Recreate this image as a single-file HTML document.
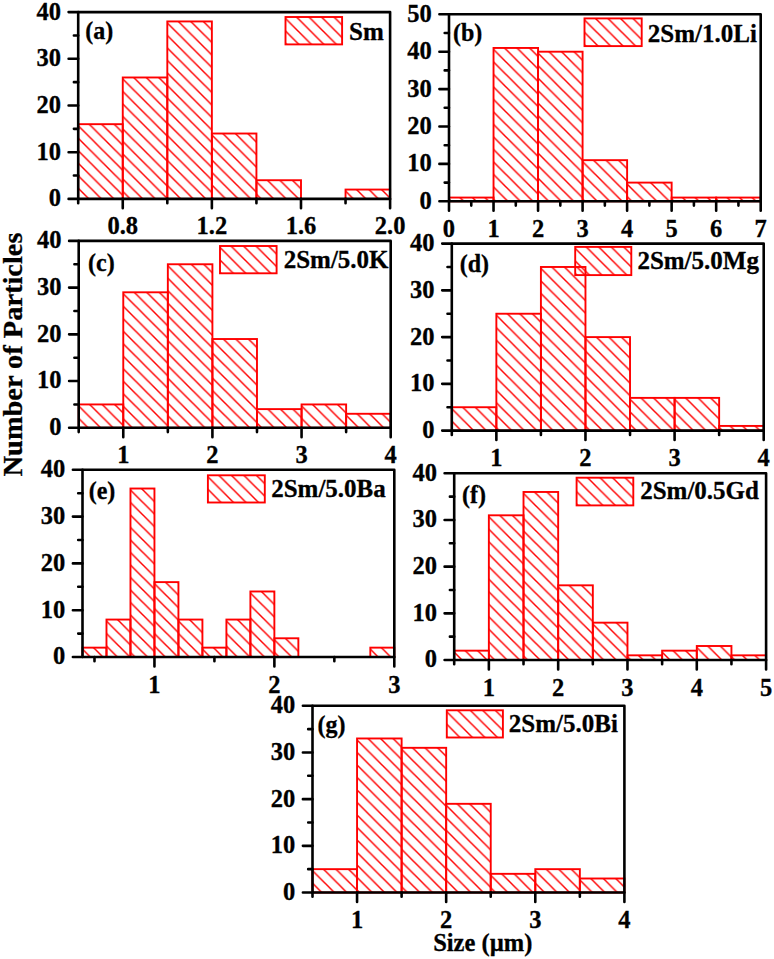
<!DOCTYPE html>
<html><head><meta charset="utf-8"><style>
html,body{margin:0;padding:0;background:#fff;}
svg{display:block;}
text{font-family:"Liberation Serif",serif;font-weight:bold;fill:#000;stroke:#000;stroke-width:0.3px;}
.yt{font-size:24.5px;text-anchor:end;}
.xt{font-size:24.5px;text-anchor:middle;}
.leg{font-size:25px;}
.lab{font-size:24px;}
.bar{stroke:#ff0000;stroke-width:1.9;}
pattern path{stroke:#ff0000;stroke-width:1.45;fill:none;}
.ax{fill:none;stroke:#000;stroke-width:2.6;stroke-linejoin:round;}
.tk{fill:none;stroke:#000;stroke-width:2.6;stroke-linecap:round;}
</style></head><body>
<svg width="774" height="959" viewBox="0 0 774 959">
<defs><pattern id="p0" patternUnits="userSpaceOnUse" x="78.2" y="125.68" width="12.5" height="12.5"><path d="M-3 9.5L3 15.5M-3 -3L15.5 15.5M9.5 -3L15.5 3"/></pattern><pattern id="p1" patternUnits="userSpaceOnUse" x="122.76" y="78.98" width="12.5" height="12.5"><path d="M-3 9.5L3 15.5M-3 -3L15.5 15.5M9.5 -3L15.5 3"/></pattern><pattern id="p2" patternUnits="userSpaceOnUse" x="167.31" y="22.94" width="12.5" height="12.5"><path d="M-3 9.5L3 15.5M-3 -3L15.5 15.5M9.5 -3L15.5 3"/></pattern><pattern id="p3" patternUnits="userSpaceOnUse" x="211.87" y="135.02" width="12.5" height="12.5"><path d="M-3 9.5L3 15.5M-3 -3L15.5 15.5M9.5 -3L15.5 3"/></pattern><pattern id="p4" patternUnits="userSpaceOnUse" x="256.43" y="181.72" width="12.5" height="12.5"><path d="M-3 9.5L3 15.5M-3 -3L15.5 15.5M9.5 -3L15.5 3"/></pattern><pattern id="p5" patternUnits="userSpaceOnUse" x="345.54" y="191.06" width="12.5" height="12.5"><path d="M-3 9.5L3 15.5M-3 -3L15.5 15.5M9.5 -3L15.5 3"/></pattern><pattern id="p6" patternUnits="userSpaceOnUse" x="285.5" y="18.5" width="12.5" height="12.5"><path d="M-3 9.5L3 15.5M-3 -3L15.5 15.5M9.5 -3L15.5 3"/></pattern><pattern id="p7" patternUnits="userSpaceOnUse" x="449" y="199.06" width="12.5" height="12.5"><path d="M-3 9.5L3 15.5M-3 -3L15.5 15.5M9.5 -3L15.5 3"/></pattern><pattern id="p8" patternUnits="userSpaceOnUse" x="493.53" y="49.46" width="12.5" height="12.5"><path d="M-3 9.5L3 15.5M-3 -3L15.5 15.5M9.5 -3L15.5 3"/></pattern><pattern id="p9" patternUnits="userSpaceOnUse" x="538.06" y="53.2" width="12.5" height="12.5"><path d="M-3 9.5L3 15.5M-3 -3L15.5 15.5M9.5 -3L15.5 3"/></pattern><pattern id="p10" patternUnits="userSpaceOnUse" x="582.59" y="161.66" width="12.5" height="12.5"><path d="M-3 9.5L3 15.5M-3 -3L15.5 15.5M9.5 -3L15.5 3"/></pattern><pattern id="p11" patternUnits="userSpaceOnUse" x="627.11" y="184.1" width="12.5" height="12.5"><path d="M-3 9.5L3 15.5M-3 -3L15.5 15.5M9.5 -3L15.5 3"/></pattern><pattern id="p12" patternUnits="userSpaceOnUse" x="671.64" y="199.06" width="12.5" height="12.5"><path d="M-3 9.5L3 15.5M-3 -3L15.5 15.5M9.5 -3L15.5 3"/></pattern><pattern id="p13" patternUnits="userSpaceOnUse" x="716.17" y="199.06" width="12.5" height="12.5"><path d="M-3 9.5L3 15.5M-3 -3L15.5 15.5M9.5 -3L15.5 3"/></pattern><pattern id="p14" patternUnits="userSpaceOnUse" x="584.5" y="19.9" width="12.5" height="12.5"><path d="M-3 9.5L3 15.5M-3 -3L15.5 15.5M9.5 -3L15.5 3"/></pattern><pattern id="p15" patternUnits="userSpaceOnUse" x="78.7" y="405.94" width="12.5" height="12.5"><path d="M-3 9.5L3 15.5M-3 -3L15.5 15.5M9.5 -3L15.5 3"/></pattern><pattern id="p16" patternUnits="userSpaceOnUse" x="123.27" y="293.8" width="12.5" height="12.5"><path d="M-3 9.5L3 15.5M-3 -3L15.5 15.5M9.5 -3L15.5 3"/></pattern><pattern id="p17" patternUnits="userSpaceOnUse" x="167.84" y="265.76" width="12.5" height="12.5"><path d="M-3 9.5L3 15.5M-3 -3L15.5 15.5M9.5 -3L15.5 3"/></pattern><pattern id="p18" patternUnits="userSpaceOnUse" x="212.41" y="340.52" width="12.5" height="12.5"><path d="M-3 9.5L3 15.5M-3 -3L15.5 15.5M9.5 -3L15.5 3"/></pattern><pattern id="p19" patternUnits="userSpaceOnUse" x="256.99" y="410.61" width="12.5" height="12.5"><path d="M-3 9.5L3 15.5M-3 -3L15.5 15.5M9.5 -3L15.5 3"/></pattern><pattern id="p20" patternUnits="userSpaceOnUse" x="301.56" y="405.94" width="12.5" height="12.5"><path d="M-3 9.5L3 15.5M-3 -3L15.5 15.5M9.5 -3L15.5 3"/></pattern><pattern id="p21" patternUnits="userSpaceOnUse" x="346.13" y="415.28" width="12.5" height="12.5"><path d="M-3 9.5L3 15.5M-3 -3L15.5 15.5M9.5 -3L15.5 3"/></pattern><pattern id="p22" patternUnits="userSpaceOnUse" x="220" y="247.5" width="12.5" height="12.5"><path d="M-3 9.5L3 15.5M-3 -3L15.5 15.5M9.5 -3L15.5 3"/></pattern><pattern id="p23" patternUnits="userSpaceOnUse" x="451.8" y="408.73" width="12.5" height="12.5"><path d="M-3 9.5L3 15.5M-3 -3L15.5 15.5M9.5 -3L15.5 3"/></pattern><pattern id="p24" patternUnits="userSpaceOnUse" x="496.36" y="315.23" width="12.5" height="12.5"><path d="M-3 9.5L3 15.5M-3 -3L15.5 15.5M9.5 -3L15.5 3"/></pattern><pattern id="p25" patternUnits="userSpaceOnUse" x="540.91" y="268.48" width="12.5" height="12.5"><path d="M-3 9.5L3 15.5M-3 -3L15.5 15.5M9.5 -3L15.5 3"/></pattern><pattern id="p26" patternUnits="userSpaceOnUse" x="585.47" y="338.6" width="12.5" height="12.5"><path d="M-3 9.5L3 15.5M-3 -3L15.5 15.5M9.5 -3L15.5 3"/></pattern><pattern id="p27" patternUnits="userSpaceOnUse" x="630.03" y="399.38" width="12.5" height="12.5"><path d="M-3 9.5L3 15.5M-3 -3L15.5 15.5M9.5 -3L15.5 3"/></pattern><pattern id="p28" patternUnits="userSpaceOnUse" x="674.59" y="399.38" width="12.5" height="12.5"><path d="M-3 9.5L3 15.5M-3 -3L15.5 15.5M9.5 -3L15.5 3"/></pattern><pattern id="p29" patternUnits="userSpaceOnUse" x="719.14" y="427.43" width="12.5" height="12.5"><path d="M-3 9.5L3 15.5M-3 -3L15.5 15.5M9.5 -3L15.5 3"/></pattern><pattern id="p30" patternUnits="userSpaceOnUse" x="575.2" y="248.4" width="12.5" height="12.5"><path d="M-3 9.5L3 15.5M-3 -3L15.5 15.5M9.5 -3L15.5 3"/></pattern><pattern id="p31" patternUnits="userSpaceOnUse" x="82.5" y="649.14" width="12.5" height="12.5"><path d="M-3 9.5L3 15.5M-3 -3L15.5 15.5M9.5 -3L15.5 3"/></pattern><pattern id="p32" patternUnits="userSpaceOnUse" x="106.48" y="621.06" width="12.5" height="12.5"><path d="M-3 9.5L3 15.5M-3 -3L15.5 15.5M9.5 -3L15.5 3"/></pattern><pattern id="p33" patternUnits="userSpaceOnUse" x="130.47" y="490.02" width="12.5" height="12.5"><path d="M-3 9.5L3 15.5M-3 -3L15.5 15.5M9.5 -3L15.5 3"/></pattern><pattern id="p34" patternUnits="userSpaceOnUse" x="154.45" y="583.62" width="12.5" height="12.5"><path d="M-3 9.5L3 15.5M-3 -3L15.5 15.5M9.5 -3L15.5 3"/></pattern><pattern id="p35" patternUnits="userSpaceOnUse" x="178.44" y="621.06" width="12.5" height="12.5"><path d="M-3 9.5L3 15.5M-3 -3L15.5 15.5M9.5 -3L15.5 3"/></pattern><pattern id="p36" patternUnits="userSpaceOnUse" x="202.42" y="649.14" width="12.5" height="12.5"><path d="M-3 9.5L3 15.5M-3 -3L15.5 15.5M9.5 -3L15.5 3"/></pattern><pattern id="p37" patternUnits="userSpaceOnUse" x="226.41" y="621.06" width="12.5" height="12.5"><path d="M-3 9.5L3 15.5M-3 -3L15.5 15.5M9.5 -3L15.5 3"/></pattern><pattern id="p38" patternUnits="userSpaceOnUse" x="250.39" y="592.98" width="12.5" height="12.5"><path d="M-3 9.5L3 15.5M-3 -3L15.5 15.5M9.5 -3L15.5 3"/></pattern><pattern id="p39" patternUnits="userSpaceOnUse" x="274.38" y="639.78" width="12.5" height="12.5"><path d="M-3 9.5L3 15.5M-3 -3L15.5 15.5M9.5 -3L15.5 3"/></pattern><pattern id="p40" patternUnits="userSpaceOnUse" x="370.32" y="649.14" width="12.5" height="12.5"><path d="M-3 9.5L3 15.5M-3 -3L15.5 15.5M9.5 -3L15.5 3"/></pattern><pattern id="p41" patternUnits="userSpaceOnUse" x="207.9" y="476.8" width="12.5" height="12.5"><path d="M-3 9.5L3 15.5M-3 -3L15.5 15.5M9.5 -3L15.5 3"/></pattern><pattern id="p42" patternUnits="userSpaceOnUse" x="454.2" y="652.16" width="12.5" height="12.5"><path d="M-3 9.5L3 15.5M-3 -3L15.5 15.5M9.5 -3L15.5 3"/></pattern><pattern id="p43" patternUnits="userSpaceOnUse" x="488.86" y="516.81" width="12.5" height="12.5"><path d="M-3 9.5L3 15.5M-3 -3L15.5 15.5M9.5 -3L15.5 3"/></pattern><pattern id="p44" patternUnits="userSpaceOnUse" x="523.51" y="493.47" width="12.5" height="12.5"><path d="M-3 9.5L3 15.5M-3 -3L15.5 15.5M9.5 -3L15.5 3"/></pattern><pattern id="p45" patternUnits="userSpaceOnUse" x="558.17" y="586.82" width="12.5" height="12.5"><path d="M-3 9.5L3 15.5M-3 -3L15.5 15.5M9.5 -3L15.5 3"/></pattern><pattern id="p46" patternUnits="userSpaceOnUse" x="592.82" y="624.16" width="12.5" height="12.5"><path d="M-3 9.5L3 15.5M-3 -3L15.5 15.5M9.5 -3L15.5 3"/></pattern><pattern id="p47" patternUnits="userSpaceOnUse" x="627.48" y="656.83" width="12.5" height="12.5"><path d="M-3 9.5L3 15.5M-3 -3L15.5 15.5M9.5 -3L15.5 3"/></pattern><pattern id="p48" patternUnits="userSpaceOnUse" x="662.13" y="652.16" width="12.5" height="12.5"><path d="M-3 9.5L3 15.5M-3 -3L15.5 15.5M9.5 -3L15.5 3"/></pattern><pattern id="p49" patternUnits="userSpaceOnUse" x="696.79" y="647.5" width="12.5" height="12.5"><path d="M-3 9.5L3 15.5M-3 -3L15.5 15.5M9.5 -3L15.5 3"/></pattern><pattern id="p50" patternUnits="userSpaceOnUse" x="731.44" y="656.83" width="12.5" height="12.5"><path d="M-3 9.5L3 15.5M-3 -3L15.5 15.5M9.5 -3L15.5 3"/></pattern><pattern id="p51" patternUnits="userSpaceOnUse" x="576.6" y="479.2" width="12.5" height="12.5"><path d="M-3 9.5L3 15.5M-3 -3L15.5 15.5M9.5 -3L15.5 3"/></pattern><pattern id="p52" patternUnits="userSpaceOnUse" x="312.5" y="870.66" width="12.5" height="12.5"><path d="M-3 9.5L3 15.5M-3 -3L15.5 15.5M9.5 -3L15.5 3"/></pattern><pattern id="p53" patternUnits="userSpaceOnUse" x="357.06" y="739.97" width="12.5" height="12.5"><path d="M-3 9.5L3 15.5M-3 -3L15.5 15.5M9.5 -3L15.5 3"/></pattern><pattern id="p54" patternUnits="userSpaceOnUse" x="401.61" y="749.31" width="12.5" height="12.5"><path d="M-3 9.5L3 15.5M-3 -3L15.5 15.5M9.5 -3L15.5 3"/></pattern><pattern id="p55" patternUnits="userSpaceOnUse" x="446.17" y="805.32" width="12.5" height="12.5"><path d="M-3 9.5L3 15.5M-3 -3L15.5 15.5M9.5 -3L15.5 3"/></pattern><pattern id="p56" patternUnits="userSpaceOnUse" x="490.73" y="875.33" width="12.5" height="12.5"><path d="M-3 9.5L3 15.5M-3 -3L15.5 15.5M9.5 -3L15.5 3"/></pattern><pattern id="p57" patternUnits="userSpaceOnUse" x="535.29" y="870.66" width="12.5" height="12.5"><path d="M-3 9.5L3 15.5M-3 -3L15.5 15.5M9.5 -3L15.5 3"/></pattern><pattern id="p58" patternUnits="userSpaceOnUse" x="579.84" y="880" width="12.5" height="12.5"><path d="M-3 9.5L3 15.5M-3 -3L15.5 15.5M9.5 -3L15.5 3"/></pattern><pattern id="p59" patternUnits="userSpaceOnUse" x="446.8" y="711.8" width="12.5" height="12.5"><path d="M-3 9.5L3 15.5M-3 -3L15.5 15.5M9.5 -3L15.5 3"/></pattern></defs>
<rect width="774" height="959" fill="#fff"/>
<rect x="78.2" y="124.18" width="44.56" height="74.72" class="bar" fill="url(#p0)"/>
<rect x="122.76" y="77.48" width="44.56" height="121.42" class="bar" fill="url(#p1)"/>
<rect x="167.31" y="21.44" width="44.56" height="177.46" class="bar" fill="url(#p2)"/>
<rect x="211.87" y="133.52" width="44.56" height="65.38" class="bar" fill="url(#p3)"/>
<rect x="256.43" y="180.22" width="44.56" height="18.68" class="bar" fill="url(#p4)"/>
<rect x="345.54" y="189.56" width="44.56" height="9.34" class="bar" fill="url(#p5)"/>
<rect x="285.5" y="17" width="56.6" height="27.4" class="bar" fill="url(#p6)"/>
<text transform="translate(349 39.5) scale(1 1.04)" class="leg">Sm</text>
<text transform="translate(85.3 38.6) scale(1 1.04)" class="lab">(a)</text>
<rect x="78.2" y="12.1" width="311.9" height="186.8" class="ax"/>
<text transform="translate(60.9 206.3) scale(1 1.04)" class="yt">0</text>
<text transform="translate(60.9 159.6) scale(1 1.04)" class="yt">10</text>
<text transform="translate(60.9 112.9) scale(1 1.04)" class="yt">20</text>
<text transform="translate(60.9 66.2) scale(1 1.04)" class="yt">30</text>
<text transform="translate(60.9 19.5) scale(1 1.04)" class="yt">40</text>
<text transform="translate(122.76 234.4) scale(1 1.04)" class="xt">0.8</text>
<text transform="translate(211.87 234.4) scale(1 1.04)" class="xt">1.2</text>
<text transform="translate(300.99 234.4) scale(1 1.04)" class="xt">1.6</text>
<text transform="translate(390.1 234.4) scale(1 1.04)" class="xt">2.0</text>
<path d="M68.6 198.9H78.2M73.9 175.55H78.2M68.6 152.2H78.2M73.9 128.85H78.2M68.6 105.5H78.2M73.9 82.15H78.2M68.6 58.8H78.2M73.9 35.45H78.2M68.6 12.1H78.2M122.76 198.9V208.3M211.87 198.9V208.3M300.99 198.9V208.3M390.1 198.9V208.3M78.2 198.9V203.2M167.31 198.9V203.2M256.43 198.9V203.2M345.54 198.9V203.2" class="tk"/>
<rect x="449" y="197.56" width="44.53" height="3.74" class="bar" fill="url(#p7)"/>
<rect x="493.53" y="47.96" width="44.53" height="153.34" class="bar" fill="url(#p8)"/>
<rect x="538.06" y="51.7" width="44.53" height="149.6" class="bar" fill="url(#p9)"/>
<rect x="582.59" y="160.16" width="44.53" height="41.14" class="bar" fill="url(#p10)"/>
<rect x="627.11" y="182.6" width="44.53" height="18.7" class="bar" fill="url(#p11)"/>
<rect x="671.64" y="197.56" width="44.53" height="3.74" class="bar" fill="url(#p12)"/>
<rect x="716.17" y="197.56" width="44.53" height="3.74" class="bar" fill="url(#p13)"/>
<rect x="584.5" y="18.4" width="57.2" height="27.7" class="bar" fill="url(#p14)"/>
<text transform="translate(647.8 41.6) scale(1 1.04)" class="leg">2Sm/1.0Li</text>
<text transform="translate(453 41) scale(1 1.04)" class="lab">(b)</text>
<rect x="449" y="14.3" width="311.7" height="187" class="ax"/>
<text transform="translate(431.7 208.7) scale(1 1.04)" class="yt">0</text>
<text transform="translate(431.7 171.3) scale(1 1.04)" class="yt">10</text>
<text transform="translate(431.7 133.9) scale(1 1.04)" class="yt">20</text>
<text transform="translate(431.7 96.5) scale(1 1.04)" class="yt">30</text>
<text transform="translate(431.7 59.1) scale(1 1.04)" class="yt">40</text>
<text transform="translate(431.7 21.7) scale(1 1.04)" class="yt">50</text>
<text transform="translate(449 236.8) scale(1 1.04)" class="xt">0</text>
<text transform="translate(493.53 236.8) scale(1 1.04)" class="xt">1</text>
<text transform="translate(538.06 236.8) scale(1 1.04)" class="xt">2</text>
<text transform="translate(582.59 236.8) scale(1 1.04)" class="xt">3</text>
<text transform="translate(627.11 236.8) scale(1 1.04)" class="xt">4</text>
<text transform="translate(671.64 236.8) scale(1 1.04)" class="xt">5</text>
<text transform="translate(716.17 236.8) scale(1 1.04)" class="xt">6</text>
<text transform="translate(760.7 236.8) scale(1 1.04)" class="xt">7</text>
<path d="M439.4 201.3H449M444.7 182.6H449M439.4 163.9H449M444.7 145.2H449M439.4 126.5H449M444.7 107.8H449M439.4 89.1H449M444.7 70.4H449M439.4 51.7H449M444.7 33H449M439.4 14.3H449M449 201.3V210.7M493.53 201.3V210.7M538.06 201.3V210.7M582.59 201.3V210.7M627.11 201.3V210.7M671.64 201.3V210.7M716.17 201.3V210.7M760.7 201.3V210.7M471.26 201.3V205.6M515.79 201.3V205.6M560.32 201.3V205.6M604.85 201.3V205.6M649.38 201.3V205.6M693.91 201.3V205.6M738.44 201.3V205.6" class="tk"/>
<rect x="78.7" y="404.44" width="44.57" height="23.36" class="bar" fill="url(#p15)"/>
<rect x="123.27" y="292.3" width="44.57" height="135.5" class="bar" fill="url(#p16)"/>
<rect x="167.84" y="264.26" width="44.57" height="163.54" class="bar" fill="url(#p17)"/>
<rect x="212.41" y="339.02" width="44.57" height="88.78" class="bar" fill="url(#p18)"/>
<rect x="256.99" y="409.11" width="44.57" height="18.69" class="bar" fill="url(#p19)"/>
<rect x="301.56" y="404.44" width="44.57" height="23.36" class="bar" fill="url(#p20)"/>
<rect x="346.13" y="413.78" width="44.57" height="14.02" class="bar" fill="url(#p21)"/>
<rect x="220" y="246" width="56.6" height="27.3" class="bar" fill="url(#p22)"/>
<text transform="translate(283.7 268) scale(1 1.04)" class="leg">2Sm/5.0K</text>
<text transform="translate(88 270.8) scale(1 1.04)" class="lab">(c)</text>
<rect x="78.7" y="240.9" width="312" height="186.9" class="ax"/>
<text transform="translate(61.4 435.2) scale(1 1.04)" class="yt">0</text>
<text transform="translate(61.4 388.47) scale(1 1.04)" class="yt">10</text>
<text transform="translate(61.4 341.75) scale(1 1.04)" class="yt">20</text>
<text transform="translate(61.4 295.02) scale(1 1.04)" class="yt">30</text>
<text transform="translate(61.4 248.3) scale(1 1.04)" class="yt">40</text>
<text transform="translate(123.27 463.3) scale(1 1.04)" class="xt">1</text>
<text transform="translate(212.41 463.3) scale(1 1.04)" class="xt">2</text>
<text transform="translate(301.56 463.3) scale(1 1.04)" class="xt">3</text>
<text transform="translate(390.7 463.3) scale(1 1.04)" class="xt">4</text>
<path d="M69.1 427.8H78.7M74.4 404.44H78.7M69.1 381.07H78.7M74.4 357.71H78.7M69.1 334.35H78.7M74.4 310.99H78.7M69.1 287.62H78.7M74.4 264.26H78.7M69.1 240.9H78.7M123.27 427.8V437.2M212.41 427.8V437.2M301.56 427.8V437.2M390.7 427.8V437.2M78.7 427.8V432.1M167.84 427.8V432.1M256.99 427.8V432.1M346.13 427.8V432.1" class="tk"/>
<rect x="451.8" y="407.23" width="44.56" height="23.38" class="bar" fill="url(#p23)"/>
<rect x="496.36" y="313.73" width="44.56" height="116.88" class="bar" fill="url(#p24)"/>
<rect x="540.91" y="266.98" width="44.56" height="163.62" class="bar" fill="url(#p25)"/>
<rect x="585.47" y="337.1" width="44.56" height="93.5" class="bar" fill="url(#p26)"/>
<rect x="630.03" y="397.88" width="44.56" height="32.73" class="bar" fill="url(#p27)"/>
<rect x="674.59" y="397.88" width="44.56" height="32.73" class="bar" fill="url(#p28)"/>
<rect x="719.14" y="425.93" width="44.56" height="4.68" class="bar" fill="url(#p29)"/>
<rect x="575.2" y="246.9" width="56.1" height="28.2" class="bar" fill="url(#p30)"/>
<text transform="translate(637.4 269) scale(1 1.04)" class="leg">2Sm/5.0Mg</text>
<text transform="translate(459.7 271.5) scale(1 1.04)" class="lab">(d)</text>
<rect x="451.8" y="243.6" width="311.9" height="187" class="ax"/>
<text transform="translate(434.5 438) scale(1 1.04)" class="yt">0</text>
<text transform="translate(434.5 391.25) scale(1 1.04)" class="yt">10</text>
<text transform="translate(434.5 344.5) scale(1 1.04)" class="yt">20</text>
<text transform="translate(434.5 297.75) scale(1 1.04)" class="yt">30</text>
<text transform="translate(434.5 251) scale(1 1.04)" class="yt">40</text>
<text transform="translate(496.36 466.1) scale(1 1.04)" class="xt">1</text>
<text transform="translate(585.47 466.1) scale(1 1.04)" class="xt">2</text>
<text transform="translate(674.59 466.1) scale(1 1.04)" class="xt">3</text>
<text transform="translate(763.7 466.1) scale(1 1.04)" class="xt">4</text>
<path d="M442.2 430.6H451.8M447.5 407.23H451.8M442.2 383.85H451.8M447.5 360.48H451.8M442.2 337.1H451.8M447.5 313.73H451.8M442.2 290.35H451.8M447.5 266.98H451.8M442.2 243.6H451.8M496.36 430.6V440M585.47 430.6V440M674.59 430.6V440M763.7 430.6V440M451.8 430.6V434.9M540.91 430.6V434.9M630.03 430.6V434.9M719.14 430.6V434.9" class="tk"/>
<rect x="82.5" y="647.64" width="23.98" height="9.36" class="bar" fill="url(#p31)"/>
<rect x="106.48" y="619.56" width="23.98" height="37.44" class="bar" fill="url(#p32)"/>
<rect x="130.47" y="488.52" width="23.98" height="168.48" class="bar" fill="url(#p33)"/>
<rect x="154.45" y="582.12" width="23.98" height="74.88" class="bar" fill="url(#p34)"/>
<rect x="178.44" y="619.56" width="23.98" height="37.44" class="bar" fill="url(#p35)"/>
<rect x="202.42" y="647.64" width="23.98" height="9.36" class="bar" fill="url(#p36)"/>
<rect x="226.41" y="619.56" width="23.98" height="37.44" class="bar" fill="url(#p37)"/>
<rect x="250.39" y="591.48" width="23.98" height="65.52" class="bar" fill="url(#p38)"/>
<rect x="274.38" y="638.28" width="23.98" height="18.72" class="bar" fill="url(#p39)"/>
<rect x="370.32" y="647.64" width="23.98" height="9.36" class="bar" fill="url(#p40)"/>
<rect x="207.9" y="475.3" width="56.9" height="27.2" class="bar" fill="url(#p41)"/>
<text transform="translate(271.2 497.3) scale(1 1.04)" class="leg">2Sm/5.0Ba</text>
<text transform="translate(88.7 499.3) scale(1 1.04)" class="lab">(e)</text>
<rect x="82.5" y="469.8" width="311.8" height="187.2" class="ax"/>
<text transform="translate(65.2 664.4) scale(1 1.04)" class="yt">0</text>
<text transform="translate(65.2 617.6) scale(1 1.04)" class="yt">10</text>
<text transform="translate(65.2 570.8) scale(1 1.04)" class="yt">20</text>
<text transform="translate(65.2 524) scale(1 1.04)" class="yt">30</text>
<text transform="translate(65.2 477.2) scale(1 1.04)" class="yt">40</text>
<text transform="translate(154.45 692.5) scale(1 1.04)" class="xt">1</text>
<text transform="translate(274.38 692.5) scale(1 1.04)" class="xt">2</text>
<text transform="translate(394.3 692.5) scale(1 1.04)" class="xt">3</text>
<path d="M72.9 657H82.5M78.2 633.6H82.5M72.9 610.2H82.5M78.2 586.8H82.5M72.9 563.4H82.5M78.2 540H82.5M72.9 516.6H82.5M78.2 493.2H82.5M72.9 469.8H82.5M154.45 657V666.4M274.38 657V666.4M394.3 657V666.4M94.49 657V661.3M214.42 657V661.3M334.34 657V661.3" class="tk"/>
<rect x="454.2" y="650.66" width="34.66" height="9.34" class="bar" fill="url(#p42)"/>
<rect x="488.86" y="515.31" width="34.66" height="144.69" class="bar" fill="url(#p43)"/>
<rect x="523.51" y="491.97" width="34.66" height="168.03" class="bar" fill="url(#p44)"/>
<rect x="558.17" y="585.32" width="34.66" height="74.68" class="bar" fill="url(#p45)"/>
<rect x="592.82" y="622.66" width="34.66" height="37.34" class="bar" fill="url(#p46)"/>
<rect x="627.48" y="655.33" width="34.66" height="4.67" class="bar" fill="url(#p47)"/>
<rect x="662.13" y="650.66" width="34.66" height="9.34" class="bar" fill="url(#p48)"/>
<rect x="696.79" y="646" width="34.66" height="14" class="bar" fill="url(#p49)"/>
<rect x="731.44" y="655.33" width="34.66" height="4.67" class="bar" fill="url(#p50)"/>
<rect x="576.6" y="477.7" width="56.7" height="27.7" class="bar" fill="url(#p51)"/>
<text transform="translate(640.2 499) scale(1 1.04)" class="leg">2Sm/0.5Gd</text>
<text transform="translate(462 503.4) scale(1 1.04)" class="lab">(f)</text>
<rect x="454.2" y="473.3" width="311.9" height="186.7" class="ax"/>
<text transform="translate(436.9 667.4) scale(1 1.04)" class="yt">0</text>
<text transform="translate(436.9 620.73) scale(1 1.04)" class="yt">10</text>
<text transform="translate(436.9 574.05) scale(1 1.04)" class="yt">20</text>
<text transform="translate(436.9 527.38) scale(1 1.04)" class="yt">30</text>
<text transform="translate(436.9 480.7) scale(1 1.04)" class="yt">40</text>
<text transform="translate(488.86 695.5) scale(1 1.04)" class="xt">1</text>
<text transform="translate(558.17 695.5) scale(1 1.04)" class="xt">2</text>
<text transform="translate(627.48 695.5) scale(1 1.04)" class="xt">3</text>
<text transform="translate(696.79 695.5) scale(1 1.04)" class="xt">4</text>
<text transform="translate(766.1 695.5) scale(1 1.04)" class="xt">5</text>
<path d="M444.6 660H454.2M449.9 636.66H454.2M444.6 613.33H454.2M449.9 589.99H454.2M444.6 566.65H454.2M449.9 543.31H454.2M444.6 519.98H454.2M449.9 496.64H454.2M444.6 473.3H454.2M488.86 660V669.4M558.17 660V669.4M627.48 660V669.4M696.79 660V669.4M766.1 660V669.4M454.2 660V664.3M523.51 660V664.3M592.82 660V664.3M662.13 660V664.3M731.44 660V664.3" class="tk"/>
<rect x="312.5" y="869.16" width="44.56" height="23.34" class="bar" fill="url(#p52)"/>
<rect x="357.06" y="738.47" width="44.56" height="154.03" class="bar" fill="url(#p53)"/>
<rect x="401.61" y="747.81" width="44.56" height="144.69" class="bar" fill="url(#p54)"/>
<rect x="446.17" y="803.82" width="44.56" height="88.68" class="bar" fill="url(#p55)"/>
<rect x="490.73" y="873.83" width="44.56" height="18.67" class="bar" fill="url(#p56)"/>
<rect x="535.29" y="869.16" width="44.56" height="23.34" class="bar" fill="url(#p57)"/>
<rect x="579.84" y="878.5" width="44.56" height="14" class="bar" fill="url(#p58)"/>
<rect x="446.8" y="710.3" width="56.1" height="27.2" class="bar" fill="url(#p59)"/>
<text transform="translate(508.8 732.3) scale(1 1.04)" class="leg">2Sm/5.0Bi</text>
<text transform="translate(317.4 732.8) scale(1 1.04)" class="lab">(g)</text>
<rect x="312.5" y="705.8" width="311.9" height="186.7" class="ax"/>
<text transform="translate(295.2 899.9) scale(1 1.04)" class="yt">0</text>
<text transform="translate(295.2 853.23) scale(1 1.04)" class="yt">10</text>
<text transform="translate(295.2 806.55) scale(1 1.04)" class="yt">20</text>
<text transform="translate(295.2 759.87) scale(1 1.04)" class="yt">30</text>
<text transform="translate(295.2 713.2) scale(1 1.04)" class="yt">40</text>
<text transform="translate(357.06 928) scale(1 1.04)" class="xt">1</text>
<text transform="translate(446.17 928) scale(1 1.04)" class="xt">2</text>
<text transform="translate(535.29 928) scale(1 1.04)" class="xt">3</text>
<text transform="translate(624.4 928) scale(1 1.04)" class="xt">4</text>
<path d="M302.9 892.5H312.5M308.2 869.16H312.5M302.9 845.83H312.5M308.2 822.49H312.5M302.9 799.15H312.5M308.2 775.81H312.5M302.9 752.47H312.5M308.2 729.14H312.5M302.9 705.8H312.5M357.06 892.5V901.9M446.17 892.5V901.9M535.29 892.5V901.9M624.4 892.5V901.9M312.5 892.5V896.8M401.61 892.5V896.8M490.73 892.5V896.8M579.84 892.5V896.8" class="tk"/>
<text transform="translate(22.2 476.4) rotate(-90) scale(1 0.95)" style="font-size:28.4px">Number of Particles</text>
<text transform="translate(433.2 951.2) scale(1 1.04)" style="font-size:24.5px">Size (µm)</text>
</svg>
</body></html>
